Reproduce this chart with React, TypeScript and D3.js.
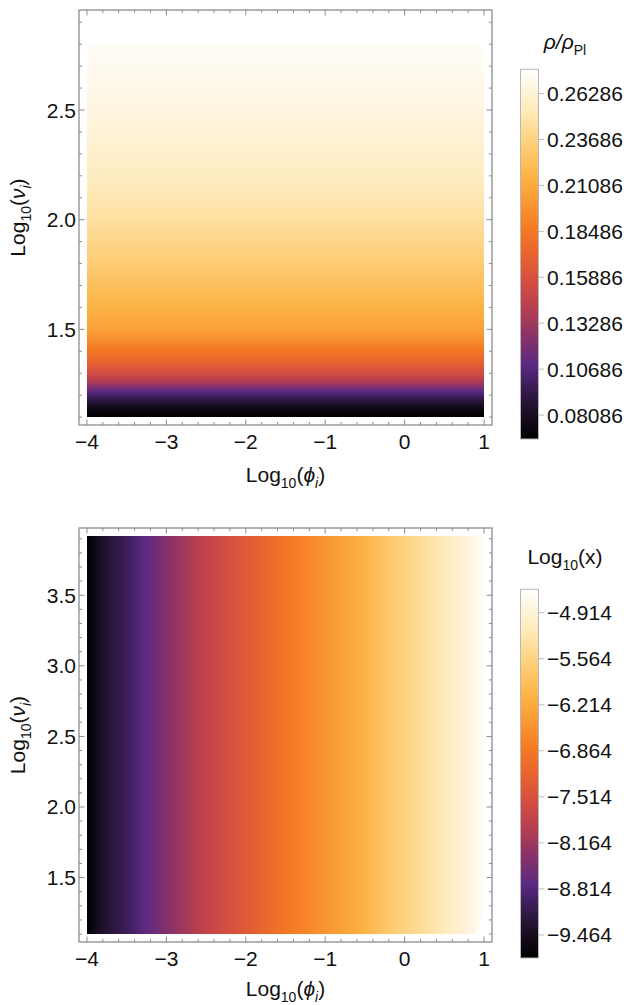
import { useEffect, useRef } from "react";
import * as d3 from "d3";

// colour map (close to Mathematica's SunsetColors)
const cmapStops = [0, 0.07, 0.14, 0.2, 0.28, 0.36, 0.43, 0.5, 0.57, 0.62, 0.7, 0.8, 0.88, 0.95, 1];
const cmapColors = [
  "#000000", "#1a0e22", "#3a1c55", "#5b2a82", "#8a3268", "#bb404d", "#d55040",
  "#e8632f", "#f47a24", "#f89030", "#fbb040", "#fdd07a", "#fee8b5", "#fff5e0", "#ffffff",
];

// top panel: rho/rho_Pl as a function of Log10(nu_i) (no phi dependence)
const rhoNu = [1.1, 1.12, 1.155, 1.19, 1.225, 1.255, 1.29, 1.35, 1.43, 1.5, 1.63, 1.8, 2.0, 2.2, 2.5, 2.8];
const rhoValues = [
  0.0673, 0.0715, 0.082, 0.0966, 0.1133, 0.1343, 0.151, 0.172, 0.1908, 0.2054,
  0.218, 0.2326, 0.2452, 0.2557, 0.2661, 0.2745,
];
const rhoRange = [0.0673, 0.2766];
const rhoTicks = [0.08086, 0.10686, 0.13286, 0.15886, 0.18486, 0.21086, 0.23686, 0.26286];

// bottom panel: Log10(x) as a function of Log10(phi_i) (no nu dependence)
const xPhi = [-4, -3.84, -3.58, -3.27, -2.95, -2.58, -2.2, -1.82, -1.44, -1.07, -0.56, -0.06, 0.45, 0.82, 1];
const xValues = [
  -9.789, -9.425, -9.112, -8.748, -8.332, -7.915, -7.551, -7.187, -6.822, -6.562,
  -6.146, -5.625, -5.209, -4.845, -4.636,
];
const xRange = [-9.789, -4.584];
const xTicks = [-9.464, -8.814, -8.164, -7.514, -6.864, -6.214, -5.564, -4.914];
// corner with no solution (bottom right of the lower panel)
const cutPhi = [0.9, 1.0, 1.0];
const cutNu = [1.1, 1.1, 1.28];

const phiTicks = [-4, -3, -2, -1, 0, 1];
const nuTicksTop = [1.5, 2.0, 2.5];
const nuTicksBottom = [1.5, 2.0, 2.5, 3.0, 3.5];

const FONT = "'Liberation Sans', Arial, Helvetica, sans-serif";
const FS = 21;
const SUB = 14;
const SHIFT = 5.5;

type Part = { t: string; it?: boolean; sub?: boolean };

function addLabel(
  sel: d3.Selection<SVGGElement, unknown, null, undefined>,
  parts: Part[],
  x: number,
  y: number,
  anchor: string,
  rotate = 0
) {
  const text = sel
    .append("text")
    .attr("transform", `translate(${x},${y}) rotate(${rotate})`)
    .attr("text-anchor", anchor)
    .style("font-family", FONT)
    .style("font-size", `${FS}px`)
    .style("fill", "#111");
  let shifted = false;
  parts.forEach((p) => {
    const ts = text.append("tspan").text(p.t);
    if (p.it) ts.style("font-style", "italic");
    if (p.sub && !shifted) {
      ts.attr("dy", SHIFT).style("font-size", `${SUB}px`);
      shifted = true;
    } else if (p.sub) {
      ts.style("font-size", `${SUB}px`);
    } else if (shifted) {
      ts.attr("dy", -SHIFT);
      shifted = false;
    }
  });
}

const cmap = d3
  .scaleLinear<string>()
  .domain(cmapStops)
  .range(cmapColors)
  .interpolate(d3.interpolateRgb);

export default function App() {
  const svgRef = useRef<SVGSVGElement>(null);

  useEffect(() => {
    if (!svgRef.current) return;
    const svg = d3.select(svgRef.current);
    svg.selectAll("*").remove();
    const root = svg.append("g");

    const fmtNu = d3.format(".1f");

    function panel(opts: {
      top: number;
      bottom: number;
      yDomain: [number, number];
      dataNu: [number, number];
      nuTicks: number[];
      byNu: boolean;
      levels: number[];
      values: number[];
      range: number[];
      ticks: number[];
      tickFmt: (v: number) => string;
      barTop: number;
      barBottom: number;
      title: Part[];
      titleY: number;
      xLabelY: number;
      cut?: boolean;
    }) {
      const left = 79;
      const right = 492;
      const g = root.append("g");
      const x = d3.scaleLinear().domain([-4.1, 1.1]).range([left, right]);
      const y = d3.scaleLinear().domain(opts.yDomain).range([opts.bottom, opts.top]);
      const valueAt = d3.scaleLinear().domain(opts.levels).range(opts.values).clamp(true);
      const toT = d3.scaleLinear().domain(opts.range).range([0, 1]).clamp(true);

      // density plot, drawn as one-pixel strips
      const heat = g.append("g").attr("shape-rendering", "crispEdges");
      const x0 = x(-4);
      const x1 = x(1);
      const yTop = y(opts.dataNu[1]);
      const yBot = y(opts.dataNu[0]);
      if (opts.byNu) {
        const rows = d3.range(Math.floor(yTop), Math.ceil(yBot));
        heat
          .selectAll("rect")
          .data(rows)
          .enter()
          .append("rect")
          .attr("x", x0)
          .attr("width", x1 - x0)
          .attr("y", (d) => Math.max(d, yTop))
          .attr("height", (d) => Math.min(d + 1, yBot) - Math.max(d, yTop))
          .attr("fill", (d) => cmap(toT(valueAt(y.invert(d + 0.5)))));
      } else {
        const cols = d3.range(Math.floor(x0), Math.ceil(x1));
        heat
          .selectAll("rect")
          .data(cols)
          .enter()
          .append("rect")
          .attr("x", (d) => Math.max(d, x0))
          .attr("width", (d) => Math.min(d + 1, x1) - Math.max(d, x0))
          .attr("y", yTop)
          .attr("height", yBot - yTop)
          .attr("fill", (d) => cmap(toT(valueAt(x.invert(d + 0.5)))));
      }
      if (opts.cut) {
        g.append("path")
          .attr(
            "d",
            d3
              .line<number>()
              .x((i) => x(cutPhi[i]))
              .y((i) => y(cutNu[i]))(d3.range(cutPhi.length)) + "Z"
          )
          .attr("fill", "#fff");
      }

      // frame + ticks on all four sides
      const frameColor = "#8c8c8c";
      g.append("rect")
        .attr("x", left)
        .attr("y", opts.top)
        .attr("width", right - left)
        .attr("height", opts.bottom - opts.top)
        .attr("fill", "none")
        .attr("stroke", frameColor)
        .attr("stroke-width", 1.3);

      const ticks = g.append("g").attr("stroke", frameColor).attr("stroke-width", 1);
      const phiMinor = d3.range(-40, 11, 2).map((v) => v / 10);
      phiMinor.forEach((v) => {
        const major = Math.abs(v - Math.round(v)) < 1e-6;
        const len = major ? 5.5 : 3;
        ticks.append("line").attr("x1", x(v)).attr("x2", x(v)).attr("y1", opts.bottom).attr("y2", opts.bottom - len);
        ticks.append("line").attr("x1", x(v)).attr("x2", x(v)).attr("y1", opts.top).attr("y2", opts.top + len);
      });
      const nuMinor = d3
        .range(Math.ceil(opts.yDomain[0] * 10), Math.floor(opts.yDomain[1] * 10) + 1)
        .map((v) => v / 10);
      nuMinor.forEach((v) => {
        const major = Math.abs(v * 2 - Math.round(v * 2)) < 1e-6;
        const len = major ? 5.5 : 3;
        ticks.append("line").attr("x1", left).attr("x2", left + len).attr("y1", y(v)).attr("y2", y(v));
        ticks.append("line").attr("x1", right).attr("x2", right - len).attr("y1", y(v)).attr("y2", y(v));
      });

      const labels = g.append("g");
      phiTicks.forEach((v) => {
        addLabel(labels, [{ t: v < 0 ? `\u2212${-v}` : `${v}` }], x(v), opts.bottom + 24, "middle");
      });
      opts.nuTicks.forEach((v) => {
        addLabel(labels, [{ t: fmtNu(v) }], left - 3, y(v) + 7.5, "end");
      });

      // axis labels
      addLabel(
        labels,
        [{ t: "Log" }, { t: "10", sub: true }, { t: "(" }, { t: "\u03d5", it: true }, { t: "i", it: true, sub: true }, { t: ")" }],
        (left + right) / 2,
        opts.xLabelY,
        "middle"
      );
      addLabel(
        labels,
        [{ t: "Log" }, { t: "10", sub: true }, { t: "(" }, { t: "\u03bd", it: true }, { t: "i", it: true, sub: true }, { t: ")" }],
        25,
        (opts.top + opts.bottom) / 2,
        "middle",
        -90
      );

      // colour bar
      const barL = 520.5;
      const barR = 538.5;
      const cb = d3.scaleLinear().domain(opts.range).range([opts.barBottom, opts.barTop]);
      const bar = g.append("g").attr("shape-rendering", "crispEdges");
      bar
        .selectAll("rect")
        .data(d3.range(Math.floor(opts.barTop), Math.ceil(opts.barBottom)))
        .enter()
        .append("rect")
        .attr("x", barL)
        .attr("width", barR - barL)
        .attr("y", (d) => d)
        .attr("height", 1.2)
        .attr("fill", (d) => cmap(toT(cb.invert(d + 0.5))));
      g.append("rect")
        .attr("x", barL)
        .attr("y", opts.barTop)
        .attr("width", barR - barL)
        .attr("height", opts.barBottom - opts.barTop)
        .attr("fill", "none")
        .attr("stroke", "#b8b8b8")
        .attr("stroke-width", 1);
      opts.ticks.forEach((v) => {
        g.append("line")
          .attr("x1", barR)
          .attr("x2", barR + 5.5)
          .attr("y1", cb(v))
          .attr("y2", cb(v))
          .attr("stroke", "#bbbbbb")
          .attr("stroke-width", 1);
        addLabel(labels, [{ t: opts.tickFmt(v) }], 547, cb(v) + 7.5, "start");
      });
      addLabel(labels, opts.title, 565, opts.titleY, "middle");
    }

    panel({
      top: 10,
      bottom: 425,
      yDomain: [1.064, 2.956],
      dataNu: [1.1, 2.8],
      nuTicks: nuTicksTop,
      byNu: true,
      levels: rhoNu,
      values: rhoValues,
      range: rhoRange,
      ticks: rhoTicks,
      tickFmt: (v) => d3.format(".5f")(v),
      barTop: 69.3,
      barBottom: 439,
      title: [{ t: "\u03c1/\u03c1", it: true }, { t: "Pl", sub: true }],
      titleY: 49,
      xLabelY: 482,
    });

    panel({
      top: 528,
      bottom: 942,
      yDomain: [1.0436, 3.9764],
      dataNu: [1.1, 3.92],
      nuTicks: nuTicksBottom,
      byNu: false,
      levels: xPhi,
      values: xValues,
      range: xRange,
      ticks: xTicks,
      tickFmt: (v) => `\u2212${d3.format(".3f")(-v)}`,
      barTop: 589.3,
      barBottom: 958,
      title: [{ t: "Log" }, { t: "10", sub: true }, { t: "(x)" }],
      titleY: 564,
      xLabelY: 996,
      cut: true,
    });
  }, []);

  return (
    <svg
      ref={svgRef}
      width={635}
      height={1005}
      style={{ position: "absolute", left: 0, top: 0, background: "#fff" }}
    />
  );
}
